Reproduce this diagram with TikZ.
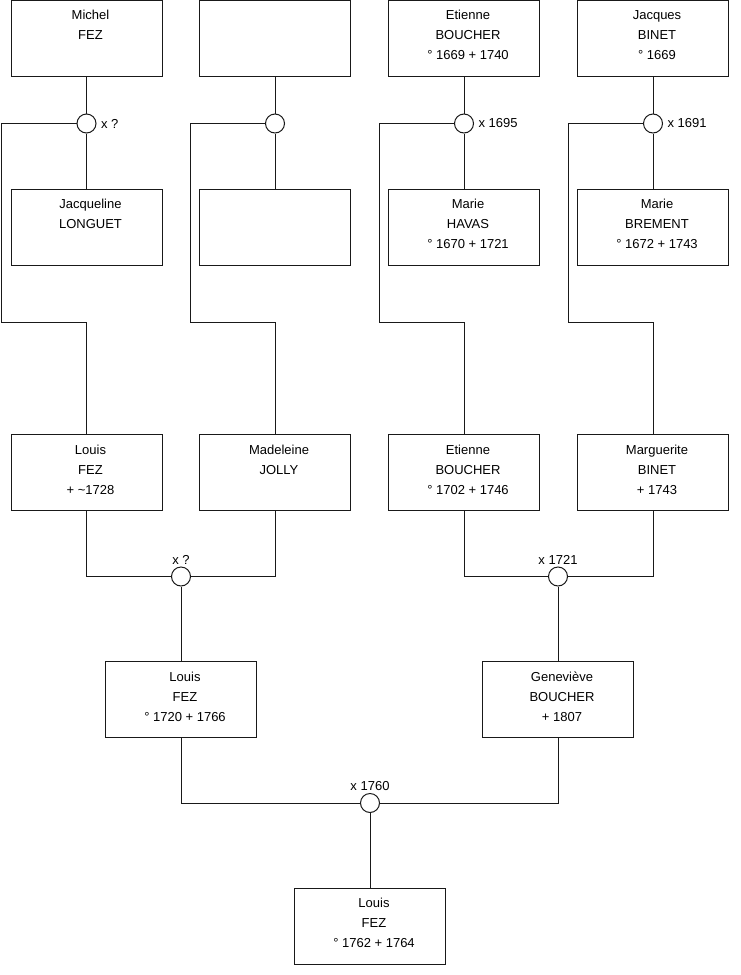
\documentclass[tikz,border=0pt]{standalone}
\usepackage{fontspec}
\setmainfont{Liberation Sans}
\usetikzlibrary{positioning}
\newcommand{\pers}[3]{\hspace*{8pt}#1\\\hspace*{8pt}#2\\\hspace*{8pt}#3\rule[-6pt]{0pt}{6pt}}

\begin{document}
\begin{tikzpicture}[x=1pt,y=-1pt,line width=1pt,color=black!90,
  person/.style={draw,fill=white,minimum width=151pt,minimum height=76pt,inner sep=0pt,align=center,text=black,font=\fontsize{13}{20}\selectfont},
  wed/.style={draw,fill=white,circle,minimum size=19pt,inner sep=0pt},
  wedtxt/.style={inner sep=2pt,text=black,font=\fontsize{13}{16}\selectfont}]
\useasboundingbox (0,0) rectangle (740,975);
% first generation
\node[person] (michel) at (86.5,38) {\pers{Michel}{FEZ}{}};
\node[person] (inconnu) at (275,38) {};
\node[person] (etienneA) at (464,38) {\pers{Etienne}{BOUCHER}{° 1669 + 1740}};
\node[person] (jacques) at (653,38) {\pers{Jacques}{BINET}{° 1669}};
\node[person] (jacqueline) at (86.5,227) {\pers{Jacqueline}{LONGUET}{}};
\node[person] (inconnue) at (275,227) {};
\node[person] (marieH) at (464,227) {\pers{Marie}{HAVAS}{° 1670 + 1721}};
\node[person] (marieB) at (653,227) {\pers{Marie}{BREMENT}{° 1672 + 1743}};
% second generation
\node[person] (louisA) at (86.5,472.5) {\pers{Louis}{FEZ}{+ \textasciitilde1728}};
\node[person] (madeleine) at (275,472.5) {\pers{Madeleine}{JOLLY}{}};
\node[person] (etienneB) at (464,472.5) {\pers{Etienne}{BOUCHER}{° 1702 + 1746}};
\node[person] (marguerite) at (653,472.5) {\pers{Marguerite}{BINET}{+ 1743}};
% third and fourth generation
\node[person] (louisB) at (181,699.5) {\pers{Louis}{FEZ}{° 1720 + 1766}};
\node[person] (genevieve) at (558,699.5) {\pers{Geneviève}{BOUCHER}{+ 1807}};
\node[person] (louisC) at (370,926) {\pers{Louis}{FEZ}{° 1762 + 1764}};
% marriages
\node[wed] (m1) at (86.5,123.5) {};
\node[wed] (m2) at (275,123.5) {};
\node[wed] (m3) at (464,123.5) {};
\node[wed] (m4) at (653,123.5) {};
\node[wed] (m5) at (181,576.5) {};
\node[wed] (m6) at (558,576.5) {};
\node[wed] (m7) at (370,803) {};
\node[wedtxt,right=2pt of m1] (x1) {x ?};
\node[wedtxt,right=2pt of m3] (x3) {x 1695};
\node[wedtxt,right=2pt of m4] (x4) {x 1691};
\node[wedtxt,above=0pt of m5] (x5) {x ?};
\node[wedtxt,above=0pt of m6] (x6) {x 1721};
\node[wedtxt,above=0pt of m7] (x7) {x 1760};
% bends of the child lines
\coordinate (c1) at (1.5,322);
\coordinate (c2) at (190,322);
\coordinate (c3) at (379,322);
\coordinate (c4) at (568,322);
% couples and children
\draw (michel) -- (m1) -- (jacqueline);
\draw (inconnu) -- (m2) -- (inconnue);
\draw (etienneA) -- (m3) -- (marieH);
\draw (jacques) -- (m4) -- (marieB);
\draw (m1.west) -| (c1) -| (louisA.north);
\draw (m2.west) -| (c2) -| (madeleine.north);
\draw (m3.west) -| (c3) -| (etienneB.north);
\draw (m4.west) -| (c4) -| (marguerite.north);
\draw (louisA.south) |- (m5.west);
\draw (madeleine.south) |- (m5.east);
\draw (etienneB.south) |- (m6.west);
\draw (marguerite.south) |- (m6.east);
\draw (m5) -- (louisB);
\draw (m6) -- (genevieve);
\draw (louisB.south) |- (m7.west);
\draw (genevieve.south) |- (m7.east);
\draw (m7) -- (louisC);
\end{tikzpicture}
\end{document}
